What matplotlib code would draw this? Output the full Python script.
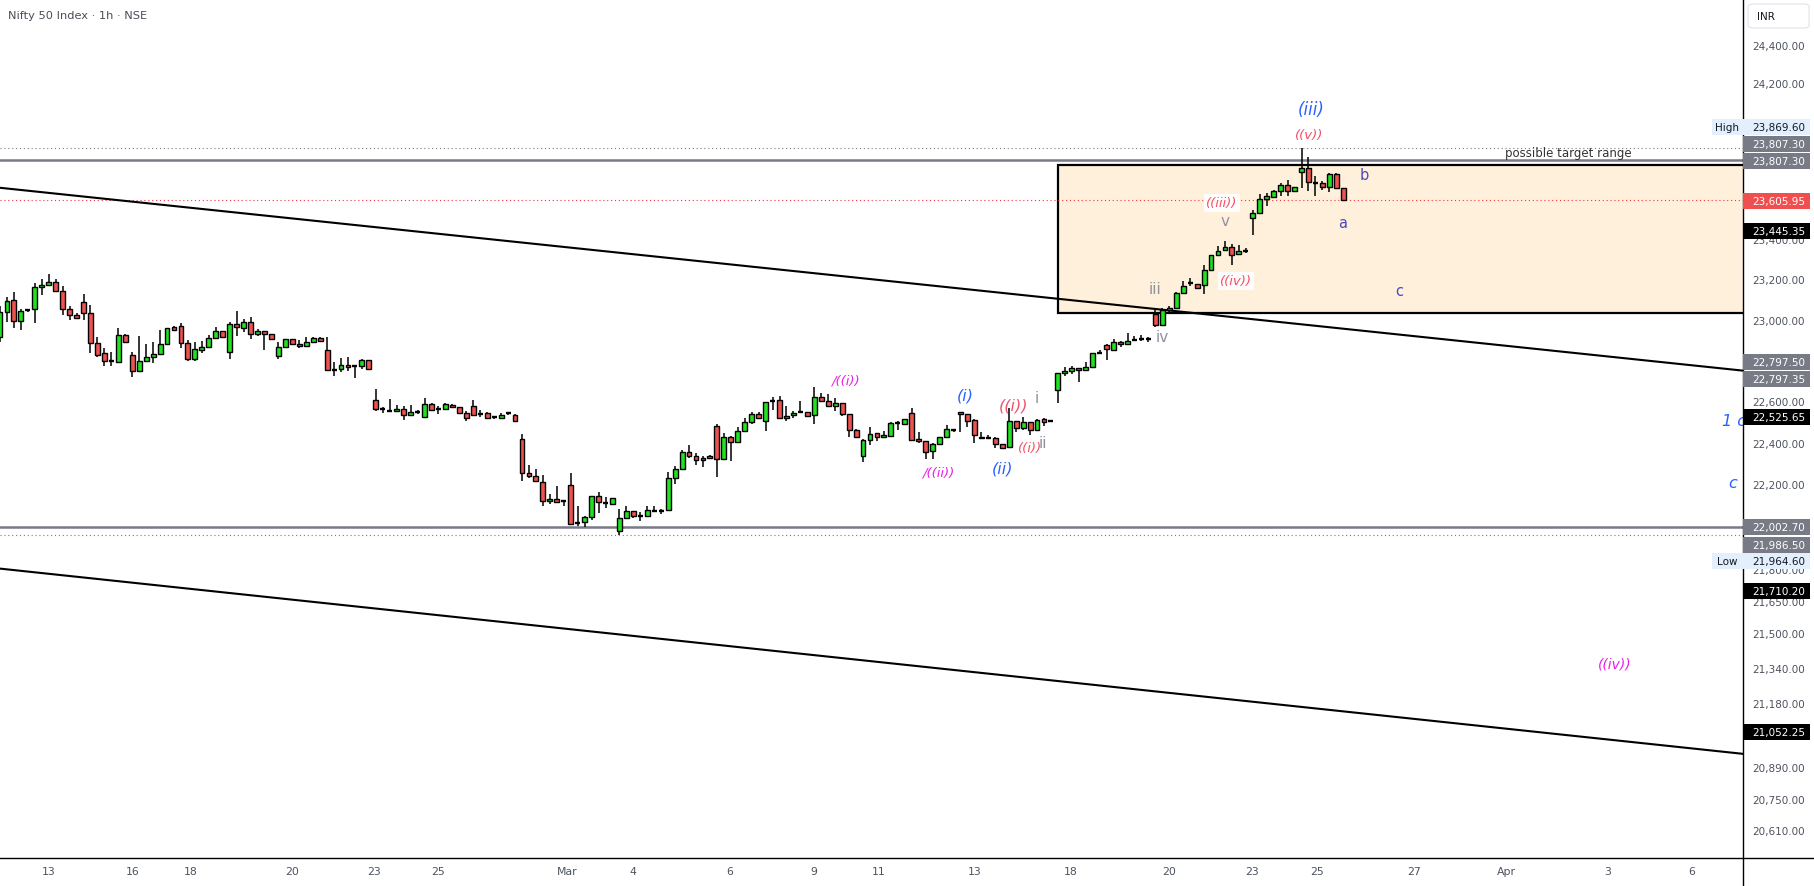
import numpy as np
import matplotlib.pyplot as plt
import matplotlib.transforms as mtransforms
from matplotlib.patches import Rectangle, FancyBboxPatch
from matplotlib.lines import Line2D
from matplotlib.ticker import NullLocator

# --- datos de las velas (1h, Nifty 50) ---
opens = [22918, 23041, 23102, 22997, 23050, 23056, 23166, 23176, 23191, 23147,
         23056, 23026, 23091, 23036, 22888, 22839, 22800, 22795, 22928, 22829,
         22751, 22800, 22819, 22834, 22883, 22967, 22972, 22888, 22810, 22854,
         22869, 22913, 22947, 22844, 22982, 22965, 22992, 22933, 22947, 22933,
         22827, 22869, 22908, 22883, 22874, 22893, 22914, 22854, 22759, 22761,
         22780, 22777, 22776, 22805, 22610, 22568, 22559, 22555, 22566, 22537,
         22553, 22527, 22592, 22566, 22566, 22585, 22576, 22547, 22581, 22542,
         22548, 22526, 22523, 22547, 22537, 22422, 22258, 22244, 22215, 22124,
         22134, 22124, 22200, 22023, 22025, 22048, 22149, 22115, 22113, 21982,
         22044, 22077, 22056, 22054, 22080, 22077, 22081, 22234, 22278, 22358,
         22342, 22331, 22330, 22484, 22325, 22431, 22406, 22460, 22505, 22543,
         22511, 22608, 22611, 22523, 22539, 22552, 22552, 22539, 22625, 22608,
         22581, 22595, 22543, 22466, 22342, 22419, 22450, 22431, 22438, 22500,
         22495, 22548, 22422, 22411, 22364, 22399, 22431, 22467, 22552, 22543,
         22514, 22434, 22426, 22426, 22398, 22382, 22508, 22474, 22503, 22466,
         22519, 22511, 22661, 22743, 22751, 22766, 22756, 22771, 22842, 22882,
         22857, 22896, 22883, 22906, 22909, 22908, 23031, 22979, 23054, 23063,
         23136, 23186, 23181, 23177, 23249, 23327, 23352, 23366, 23332, 23346,
         23512, 23537, 23607, 23621, 23649, 23680, 23649, 23745, 23767, 23691,
         23689, 23668, 23736, 23665]
highs = [23071, 23116, 23144, 23058, 23058, 23187, 23207, 23232, 23207, 23172,
         23071, 23038, 23132, 23077, 22919, 22865, 22845, 22964, 22933, 22844,
         22924, 22885, 22894, 22954, 22964, 22972, 22988, 22905, 22894, 22899,
         22929, 22969, 22949, 22993, 23049, 23008, 23018, 22959, 22949, 22935,
         22894, 22910, 22910, 22903, 22918, 22921, 22919, 22919, 22795, 22816,
         22821, 22780, 22811, 22807, 22663, 22577, 22616, 22586, 22582, 22587,
         22563, 22621, 22598, 22581, 22597, 22592, 22578, 22556, 22611, 22561,
         22553, 22532, 22547, 22553, 22542, 22447, 22298, 22278, 22250, 22157,
         22197, 22126, 22258, 22103, 22056, 22151, 22167, 22143, 22141, 22088,
         22103, 22080, 22072, 22103, 22102, 22088, 22263, 22294, 22369, 22393,
         22353, 22342, 22344, 22495, 22450, 22438, 22479, 22524, 22552, 22552,
         22602, 22627, 22632, 22581, 22556, 22606, 22554, 22673, 22645, 22640,
         22619, 22597, 22545, 22471, 22422, 22479, 22452, 22463, 22506, 22511,
         22521, 22571, 22458, 22413, 22401, 22434, 22490, 22469, 22554, 22545,
         22519, 22455, 22442, 22431, 22400, 22571, 22510, 22527, 22505, 22519,
         22523, 22514, 22743, 22772, 22776, 22768, 22798, 22841, 22854, 22884,
         22909, 22898, 22939, 22923, 22929, 22918, 23053, 23063, 23071, 23144,
         23199, 23211, 23183, 23274, 23329, 23371, 23396, 23382, 23377, 23362,
         23555, 23635, 23638, 23653, 23689, 23706, 23672, 23869.6, 23822, 23725,
         23703, 23741, 23741, 23667]
lows = [22893, 22995, 22962, 22955, 23041, 22990, 23129, 23174, 23144, 23029,
        23002, 23010, 23005, 22842, 22819, 22776, 22776, 22793, 22891, 22725,
        22749, 22798, 22792, 22832, 22881, 22950, 22866, 22800, 22803, 22839,
        22867, 22909, 22916, 22813, 22923, 22945, 22909, 22923, 22857, 22906,
        22813, 22867, 22878, 22866, 22872, 22891, 22896, 22754, 22730, 22746,
        22754, 22720, 22762, 22759, 22559, 22547, 22556, 22552, 22516, 22535,
        22542, 22525, 22555, 22543, 22564, 22571, 22545, 22510, 22532, 22527,
        22518, 22518, 22521, 22540, 22506, 22222, 22235, 22218, 22103, 22113,
        22117, 22103, 22013, 22006, 22004, 22037, 22069, 22091, 22111, 21964.6,
        22042, 22046, 22032, 22052, 22077, 22064, 22079, 22208, 22276, 22330,
        22299, 22289, 22328, 22242, 22323, 22318, 22404, 22458, 22495, 22522,
        22463, 22564, 22519, 22508, 22523, 22550, 22530, 22495, 22606, 22579,
        22559, 22532, 22431, 22432, 22313, 22395, 22414, 22429, 22436, 22467,
        22493, 22414, 22403, 22326, 22326, 22397, 22429, 22455, 22458, 22479,
        22403, 22424, 22422, 22377, 22377, 22380, 22455, 22466, 22442, 22464,
        22484, 22508, 22597, 22730, 22738, 22696, 22754, 22769, 22834, 22808,
        22855, 22871, 22881, 22898, 22898, 22893, 22970, 22977, 23038, 23061,
        23134, 23174, 23159, 23131, 23244, 23325, 23350, 23274, 23329, 23336,
        23429, 23535, 23575, 23613, 23626, 23626, 23647, 23664, 23652, 23626,
        23655, 23643, 23658, 23603]
closes = [23041, 23096, 22997, 23046, 23050, 23166, 23176, 23191, 23146, 23056,
          23026, 23012, 23036, 22888, 22832, 22800, 22800, 22928, 22893, 22751,
          22800, 22821, 22834, 22883, 22962, 22955, 22888, 22810, 22859, 22869,
          22913, 22947, 22918, 22982, 22967, 22992, 22933, 22947, 22933, 22908,
          22869, 22908, 22883, 22874, 22893, 22914, 22898, 22756, 22759, 22780,
          22771, 22777, 22805, 22761, 22566, 22568, 22559, 22566, 22537, 22553,
          22553, 22590, 22561, 22566, 22590, 22576, 22547, 22523, 22539, 22542,
          22523, 22526, 22537, 22547, 22508, 22258, 22244, 22220, 22124, 22135,
          22119, 22124, 22018, 22023, 22048, 22149, 22119, 22115, 22139, 22044,
          22077, 22053, 22056, 22081, 22080, 22077, 22234, 22278, 22358, 22342,
          22320, 22320, 22342, 22325, 22431, 22406, 22460, 22505, 22543, 22524,
          22600, 22608, 22523, 22532, 22548, 22552, 22532, 22625, 22608, 22581,
          22595, 22543, 22466, 22434, 22419, 22447, 22431, 22442, 22500, 22500,
          22519, 22419, 22411, 22361, 22399, 22432, 22471, 22467, 22542, 22511,
          22442, 22426, 22426, 22398, 22379, 22508, 22474, 22503, 22466, 22516,
          22503, 22511, 22741, 22753, 22767, 22758, 22771, 22839, 22842, 22858,
          22896, 22883, 22898, 22906, 22909, 22908, 22979, 23054, 23064, 23137,
          23174, 23186, 23161, 23249, 23327, 23349, 23366, 23329, 23346, 23346,
          23537, 23609, 23624, 23649, 23680, 23649, 23670, 23767, 23694, 23691,
          23670, 23736, 23665, 23605.95]

# eje X: etiquetas de fechas (posicion en numero de vela)
x_tick_pos = [6.98, 19.1, 27.4, 41.9, 53.7, 63.0, 81.5, 91.0, 104.9, 116.9,
              126.2, 140.0, 153.8, 168.0, 179.9, 189.3, 203.1, 216.5, 231.0, 243.1]
x_tick_labels = ["13", "16", "18", "20", "23", "25", "Mar", "4", "6", "9",
                 "11", "13", "18", "20", "23", "25", "27", "Apr", "3", "6"]

# eje Y: precios de la escala
price_ticks = [24400, 24200, 24000, 23400, 23200, 23000, 22800, 22600, 22400,
               22200, 22000, 21800, 21650, 21500, 21340, 21180, 20890,
               20750, 20610]

# lineas dibujadas
upper_trend_x = [0, 250.4]
upper_trend_y = [23666, 22754]
lower_trend_x = [0, 250.4]
lower_trend_y = [21806, 20955]
gray_levels = [23807.30, 22002.70]
dotted_levels = [23869.60, 21964.60]
last_price = 23605.95
box_left = 152
box_top = 23782
box_bottom = 23036

W, H = 1815, 887
AX_RIGHT = 1743   # px, borde derecho del area de precios
AX_BOTTOM = 859   # px desde arriba

GREEN = "#22e022"
RED = "#ef5350"
BLUE = "#2962ff"
WRED = "#f0506a"
MAGENTA = "#e91ee9"
GRAYL = "#8f939c"
INDIGO = "#5048b8"
TXT = "#4c525e"

fig = plt.figure(figsize=(W / 100, H / 100), dpi=100)
fig.patch.set_facecolor("white")
ax = fig.add_axes([0, (H - AX_BOTTOM) / H, AX_RIGHT / W, AX_BOTTOM / H])
ax.set_yscale("log")
ax.set_xlim(0, 250.43)
ax.set_ylim(20491, 24646)
ax.yaxis.set_major_locator(NullLocator())
ax.yaxis.set_minor_locator(NullLocator())
ax.xaxis.set_major_locator(NullLocator())
for s in ax.spines.values():
    s.set_visible(False)

# caja de objetivo
ax.add_patch(Rectangle((box_left, box_bottom), 120, box_top - box_bottom,
                       facecolor="#fff0dc", edgecolor="black", lw=1.6, zorder=1))

# niveles horizontales
for lv in gray_levels:
    ax.axhline(lv, color="#787b86", lw=1.8, zorder=2)
for lv in dotted_levels:
    ax.axhline(lv, color="#787b86", lw=0.8, ls=(0, (1, 2.5)), zorder=2)
ax.axhline(last_price, color="#f23645", lw=0.8, ls=(0, (1, 2.5)), zorder=2)

# lineas de tendencia
ax.plot(upper_trend_x, upper_trend_y, color="black", lw=1.5, zorder=2.5)
ax.plot(lower_trend_x, lower_trend_y, color="black", lw=1.5, zorder=2.5)

# velas
o = np.array(opens, dtype=float)
c = np.array(closes, dtype=float)
idx = np.arange(len(o))
up = c > o
dn = c < o
flat = c == o
ax.vlines(idx, lows, highs, color="black", lw=1.1, zorder=3)
ax.bar(idx[up], (c - o)[up], bottom=o[up], width=0.7, color=GREEN,
       edgecolor="black", lw=1.0, zorder=4)
ax.bar(idx[dn], (o - c)[dn], bottom=c[dn], width=0.7, color=RED,
       edgecolor="black", lw=1.0, zorder=4)
ax.hlines(o[flat], idx[flat] - 0.36, idx[flat] + 0.36, color="black", lw=1.7, zorder=4)


# etiquetas de ondas (posiciones en pixeles del grafico)
def wave(s, x, y, color, size, italic=True, bg=False, ha="center"):
    t = ax.text(x / AX_RIGHT, 1 - y / AX_BOTTOM, s, transform=ax.transAxes,
                ha=ha, va="center", color=color, fontsize=size,
                style="italic" if italic else "normal", zorder=6, clip_on=True)
    if bg:
        t.set_bbox(dict(facecolor="white", edgecolor="none", pad=1.5, alpha=0.9))


wave("(iii)", 1311, 110, BLUE, 12)
wave("((v))", 1309, 135, WRED, 9.5)
wave("b", 1364, 176, INDIGO, 10.5, italic=False)
wave("a", 1343, 224, INDIGO, 10.5, italic=False)
wave("((iii))", 1222, 204, WRED, 9.5, bg=True)
wave("v", 1225, 222, GRAYL, 11, italic=False)
wave("((iv))", 1236, 282, WRED, 9.5, bg=True)
wave("iii", 1155, 289, GRAYL, 11, italic=False)
wave("iv", 1162, 338, GRAYL, 11, italic=False)
wave("c", 1399, 291, INDIGO, 10.5, italic=False)
wave("/((i))", 846, 381, MAGENTA, 9.5)
wave("/((ii))", 939, 473, MAGENTA, 9.5)
wave("(i)", 965, 396, BLUE, 11.5)
wave("(ii)", 1003, 469, BLUE, 11.5)
wave("((i))", 1014, 406, WRED, 11.5)
wave("i", 1037, 399, GRAYL, 11, italic=False)
wave("((i))", 1030, 449, WRED, 9.5)
wave("ii", 1043, 443, GRAYL, 11, italic=False)
wave("1 c", 1722, 421, BLUE, 11.5, ha="left")
wave("c", 1733, 484, BLUE, 11.5)
wave("((iv))", 1615, 665, MAGENTA, 10)
ax.text(1568 / AX_RIGHT, 1 - 154 / AX_BOTTOM, "possible target range",
        transform=ax.transAxes, ha="center", va="center", fontsize=8.5,
        color="#333333", zorder=6)

# marco: linea vertical de la escala y linea inferior del tiempo
fig.add_artist(Line2D([AX_RIGHT / W, AX_RIGHT / W], [0, 1], color="black", lw=1.0))
fig.add_artist(Line2D([0, 1], [1 - AX_BOTTOM / H, 1 - AX_BOTTOM / H], color="black", lw=1.0))

# escala de precios a la derecha
yt = mtransforms.blended_transform_factory(ax.transAxes, ax.transData)
for p in price_ticks:
    ax.text(1 + 9 / AX_RIGHT, p, f"{p:,.2f}", transform=yt, ha="left", va="center",
            fontsize=7.5, color=TXT, clip_on=False, zorder=1)

# etiquetas de precio con fondo (pixeles)
tags = [("23,869.60", 127.7, "hl", "High"),
        ("23,807.30", 144.7, "gray", None),
        ("23,807.30", 162.0, "gray", None),
        ("23,605.95", 202.0, "red", None),
        ("23,445.35", 231.7, "black", None),
        ("22,797.50", 363.3, "gray", None),
        ("22,797.35", 380.0, "gray", None),
        ("22,525.65", 418.3, "black", None),
        ("22,002.70", 528.3, "gray", None),
        ("21,986.50", 546.0, "gray", None),
        ("21,964.60", 561.7, "hl", "Low"),
        ("21,710.20", 591.7, "black", None),
        ("21,052.25", 733.3, "black", None)]
tag_bg = {"hl": "#e3effd", "gray": "#787b86", "black": "#000000", "red": "#f04f4f"}
tag_fg = {"hl": "#131722", "gray": "white", "black": "white", "red": "white"}
for txt, y, kind, side in tags:
    h = 16
    fig.add_artist(Rectangle((AX_RIGHT / W, 1 - (y + h / 2) / H), 67 / W, h / H,
                             transform=fig.transFigure, facecolor=tag_bg[kind],
                             edgecolor="none", zorder=5))
    fig.text(1752 / W, 1 - y / H, txt, ha="left", va="center", fontsize=7.5,
             color=tag_fg[kind], zorder=6)
    if side:
        fig.add_artist(Rectangle((1712 / W, 1 - (y + h / 2) / H), 31 / W, h / H,
                                 transform=fig.transFigure, facecolor=tag_bg[kind],
                                 edgecolor="none", zorder=5))
        fig.text(1727 / W, 1 - y / H, side, ha="center", va="center", fontsize=7.5,
                 color="#131722", zorder=6)

# caja INR
fig.add_artist(FancyBboxPatch((1748 / W, 1 - 29 / H), 61 / W, 24 / H,
                              boxstyle="round,pad=0,rounding_size=0.003",
                              transform=fig.transFigure, facecolor="white",
                              edgecolor="#e0e3eb", lw=0.8, zorder=5))
fig.text(1757 / W, 1 - 16.5 / H, "INR", ha="left", va="center", fontsize=7.5,
         color="#131722", zorder=6)

# eje de tiempo
for pos, lab in zip(x_tick_pos, x_tick_labels):
    xf = pos / 250.43 * AX_RIGHT / W
    fig.text(xf, 1 - 872 / H, lab, ha="center", va="center", fontsize=7.8, color=TXT)

# titulo
fig.text(8 / W, 1 - 16 / H, "Nifty 50 Index · 1h · NSE", ha="left", va="center",
         fontsize=8.2, color="#4a4e59")

fig.savefig("out.png", dpi=100)
